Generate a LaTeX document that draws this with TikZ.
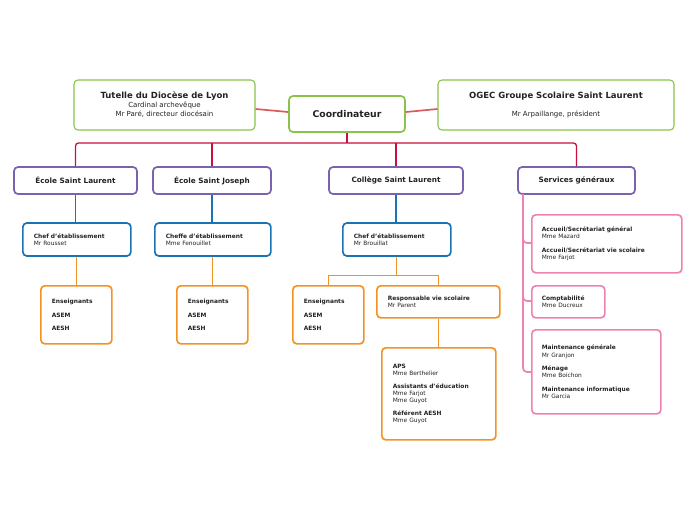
\documentclass[tikz,border=0pt]{standalone}
\usepackage{fontspec}
\setmainfont{DejaVu Sans}
\definecolor{gr}{HTML}{8BC34A}
\definecolor{rd}{HTML}{C8103C}
\definecolor{rl}{HTML}{D95B5B}
\definecolor{pu}{HTML}{7B62B0}
\definecolor{bl}{HTML}{1A74B4}
\definecolor{orr}{HTML}{F39325}
\definecolor{pk}{HTML}{EE82B0}
\definecolor{tx}{HTML}{222222}
\begin{document}
\begin{tikzpicture}[x=1pt,y=-1pt,
 bx/.style={draw,rounded corners=4pt,line width=1.7pt,inner sep=0pt,text=tx},
 small/.style={font=\fontsize{5.9}{7.3}\selectfont,align=left},
 lvl/.style={bx,draw=pu,font=\bfseries\fontsize{7.3}{8}\selectfont},
]
\useasboundingbox (0,0) rectangle (696,520);
\newcommand{\B}[1]{\textbf{#1}}
% top
\node[bx,draw=gr,line width=1.1pt,minimum width=181,minimum height=50,align=center,font=\fontsize{7}{9}\selectfont] (tut) at (164.5,105) {\B{\fontsize{8.5}{10}\selectfont Tutelle du Diocèse de Lyon}\\Cardinal archevêque\\Mr Paré, directeur diocésain};
\node[bx,draw=gr,minimum width=116,minimum height=36,font=\bfseries\fontsize{9.3}{10}\selectfont] (co) at (347,114) {Coordinateur};
\node[bx,draw=gr,line width=1.1pt,minimum width=236,minimum height=50,align=center,font=\fontsize{7}{9}\selectfont] (og) at (556,105) {\B{\fontsize{8.5}{10}\selectfont OGEC Groupe Scolaire Saint Laurent}\\[9pt]Mr Arpaillange, président};
\draw[rl,line width=1.7pt] (tut.east|-0,109) -- (co.west|-0,112);
\draw[rl,line width=1.7pt] (og.west|-0,109) -- (co.east|-0,112);
% level 1
\node[lvl,minimum width=123,minimum height=27] (e1) at (75.5,180.5) {École Saint Laurent};
\node[lvl,minimum width=118,minimum height=27] (e2) at (212,180.5) {École Saint Joseph};
\node[lvl,minimum width=134,minimum height=27] (e3) at (396,180.5) {Collège Saint Laurent};
\node[lvl,minimum width=117,minimum height=27] (e4) at (576.5,180.5) {Services généraux};
\coordinate (bus) at (0,143);
\tikzset{rdl/.style={rd,line width=1.3pt,rounded corners=3pt}}
\draw[rdl] (co.south) -- (co.south|-bus);
\draw[rdl] (e1.north) -- (e1.north|-bus) -- (e4.north|-bus) -- (e4.north);
\draw[rdl] (e2.north) -- (e2.north|-bus);
\draw[rdl] (e3.north) -- (e3.north|-bus);
% chefs
\tikzset{chef/.style={bx,draw=bl,minimum height=33,small,anchor=west,inner xsep=11pt}}
\node[chef,text width=86,minimum width=108] (c1) at (22,239.5) {\B{Chef d'établissement}\\Mr Rousset};
\node[chef,text width=94,minimum width=116] (c2) at (154,239.5) {\B{Cheffe d'établissement}\\Mme Fenouillet};
\node[chef,text width=86,minimum width=108] (c3) at (342,239.5) {\B{Chef d'établissement}\\Mr Brouillat};
\foreach \a/\b in {e1/c1,e2/c2,e3/c3}
 \draw[bl,line width=1.7pt] (\a.south) -- (\b.north-|\a.south);
% orange
\tikzset{ob/.style={bx,draw=orr,small,anchor=north west,inner xsep=11pt,inner ysep=8pt},
 ol/.style={orr,line width=1pt}}
\node[ob,text width=49,minimum height=58] (s1) at (40,285) {\B{Enseignants}\\[6pt]\B{ASEM}\\[6pt]\B{AESH}};
\node[ob,text width=49,minimum height=58] (s2) at (176,285) {\B{Enseignants}\\[6pt]\B{ASEM}\\[6pt]\B{AESH}};
\node[ob,text width=49,minimum height=58] (s3) at (292,285) {\B{Enseignants}\\[6pt]\B{ASEM}\\[6pt]\B{AESH}};
\node[ob,text width=101,minimum height=32] (rv) at (376,285) {\B{Responsable vie scolaire}\\Mr Parent};
\node[ob,text width=92,minimum height=92] (ap) at (381,347) {\B{APS}\\Mme Berthelier\\[5pt]\B{Assistants d'éducation}\\Mme Farjot\\Mme Guyot\\[5pt]\B{Référent AESH}\\Mme Guyot};
\draw[ol] (c1.south-|s1.north) -- (s1.north);
\draw[ol] (c2.south-|s2.north) -- (s2.north);
\draw[ol] (c3.south-|e3.south) -- ++(0,19) coordinate (ob);
\draw[ol] (s3.north) -- (s3.north|-ob) -- (ob-|rv.north) -- (rv.north);
\draw[ol] (rv.south-|438,0) -- (ap.north-|438,0);
% services
\tikzset{pb/.style={bx,draw=pk,small,anchor=north west,inner xsep=10pt,inner ysep=8pt},
 pl/.style={pk,line width=1.7pt,rounded corners=4pt}}
\node[pb,text width=130,minimum height=58] (g1) at (531,214) {\B{Accueil/Secrétariat général}\\Mme Mazard\\[6pt]\B{Accueil/Secrétariat vie scolaire}\\Mme Farjot};
\node[pb,text width=53,minimum height=32] (g2) at (531,285) {\B{Comptabilité}\\Mme Ducreux};
\node[pb,text width=109,minimum height=84] (g3) at (531,329) {\B{Maintenance générale}\\Mr Granjon\\[6pt]\B{Ménage}\\Mme Boichon\\[6pt]\B{Maintenance informatique}\\Mr Garcia};
\draw[pl] (523,194) -- (523,372) -- (g3.west|-0,372);
\draw[pl] (523,236) -- (523,243) -- (g1.west|-0,243);
\draw[pl] (523,294) -- (523,301) -- (g2.west|-0,301);
\end{tikzpicture}
\end{document}
